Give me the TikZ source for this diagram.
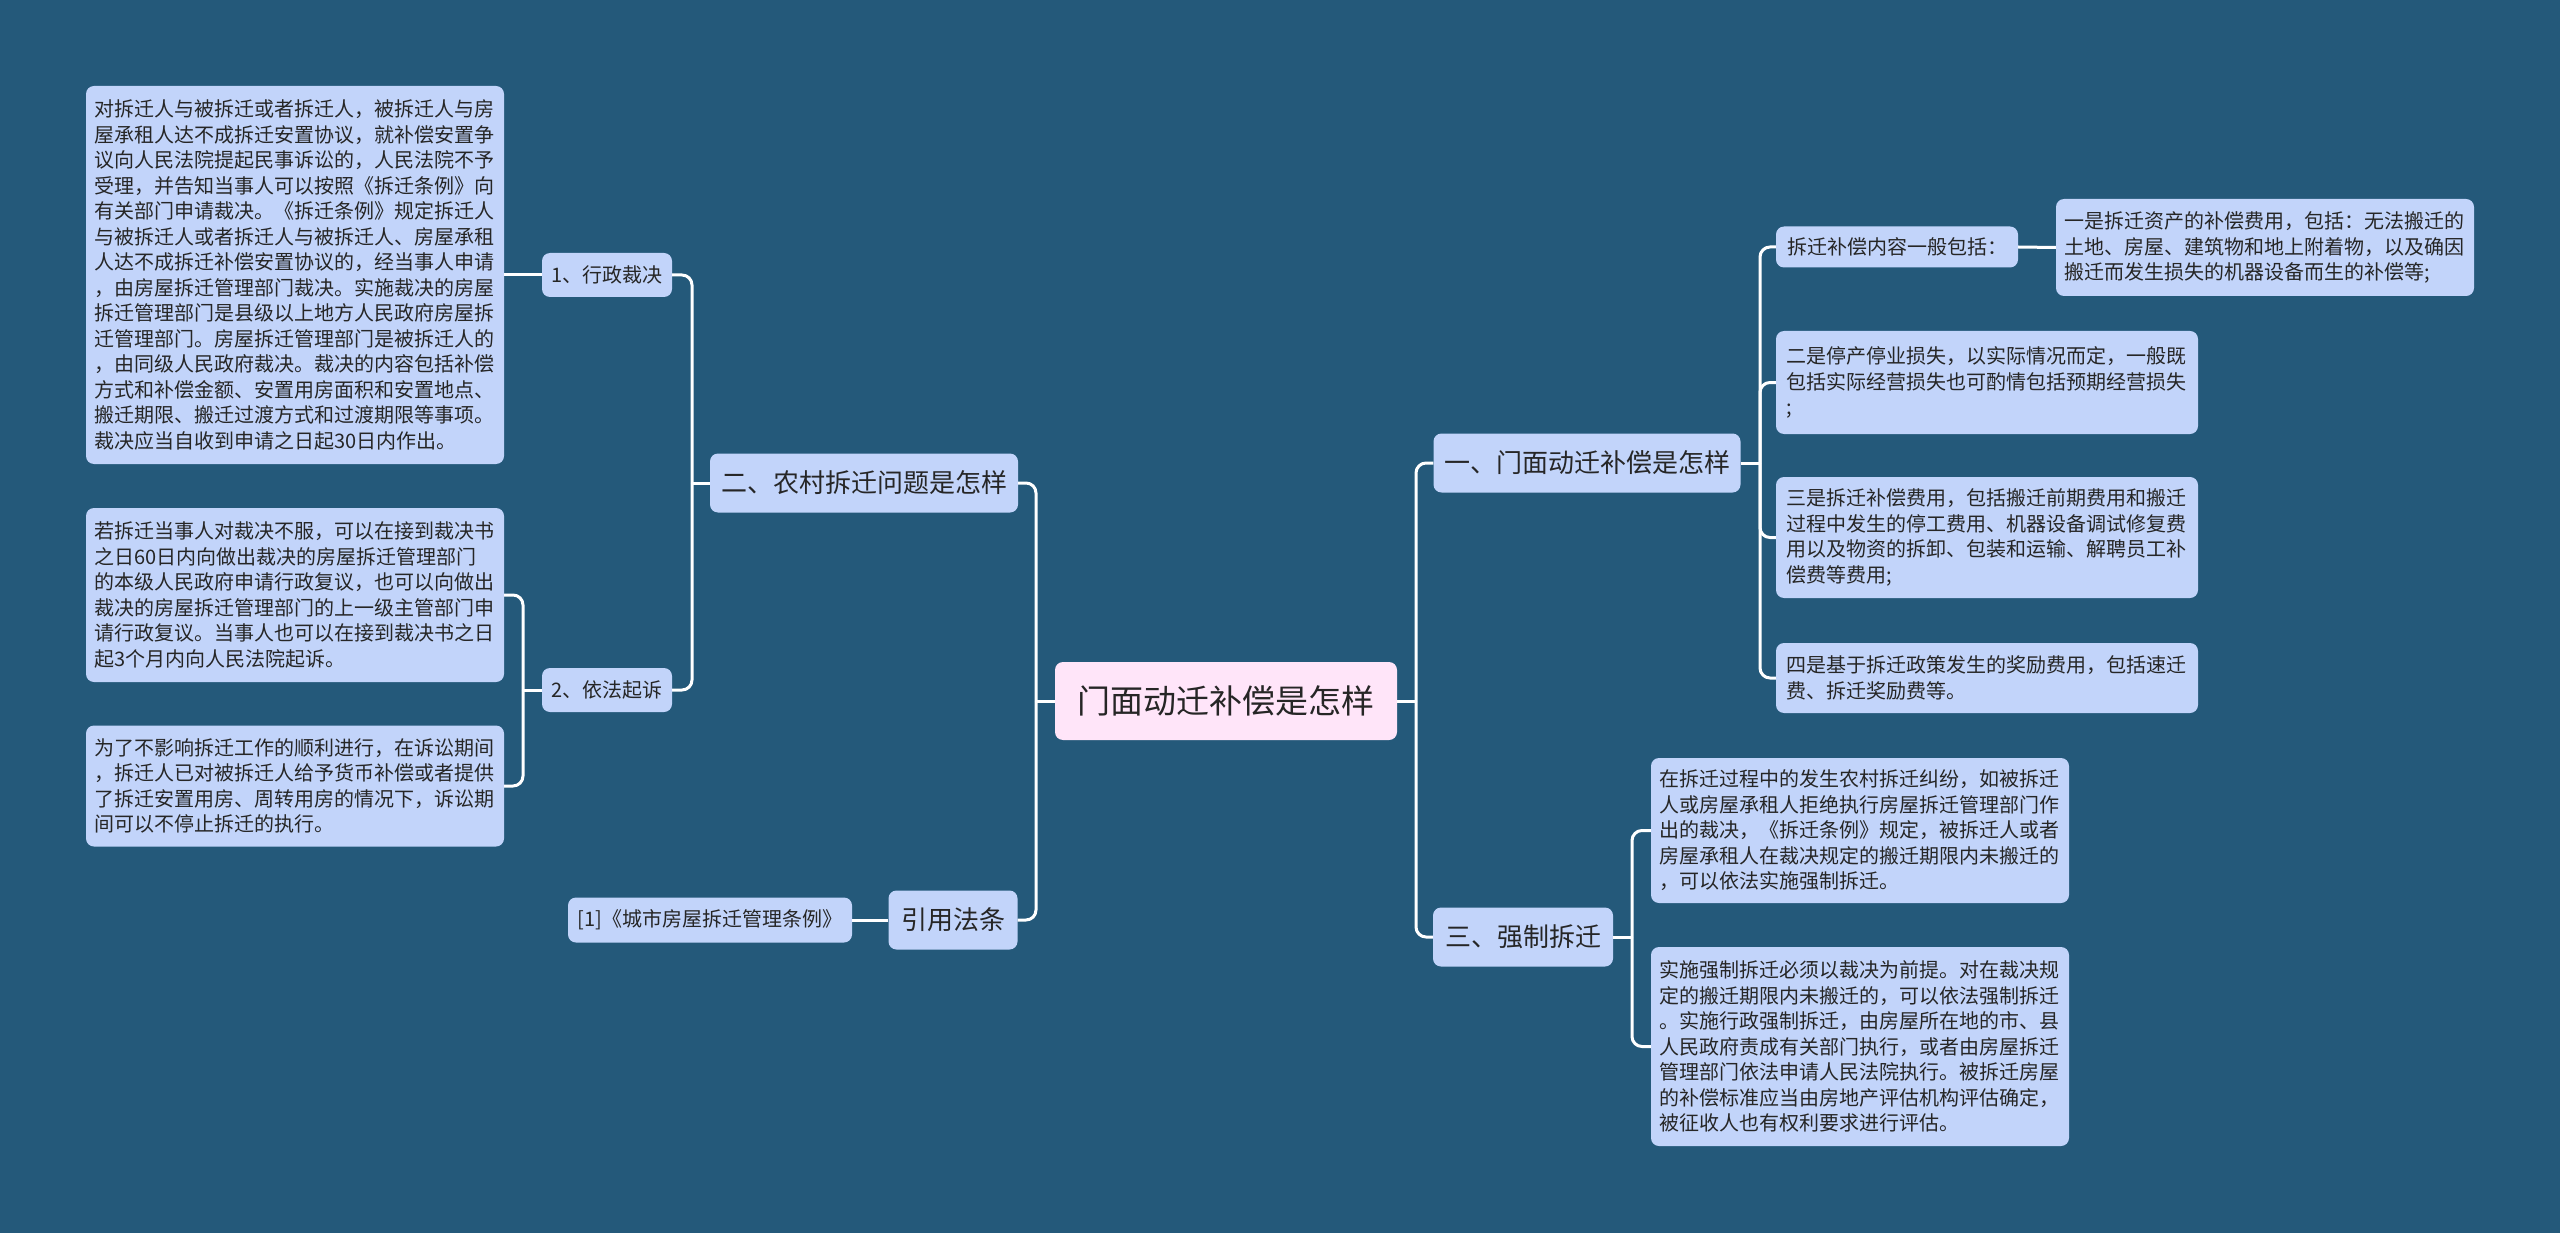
\documentclass[tikz,border=0pt]{standalone}
\usepackage{fontspec}
\setmainfont{Noto Sans CJK SC}
\definecolor{bgc}{RGB}{36,89,122}
\definecolor{boxc}{RGB}{194,212,250}
\definecolor{rootc}{RGB}{255,229,249}
\definecolor{txt}{RGB}{38,38,38}
\begin{document}
\begin{tikzpicture}[x=1pt,y=-1pt,
 base/.style={rounded corners=8pt, fill=boxc, text=txt, inner xsep=0pt, inner ysep=0pt, anchor=center},
 rootbox/.style={base, fill=rootc, font=\fontsize{33}{40}\selectfont},
 mainbox/.style={base, font=\fontsize{26}{32}\selectfont},
 subbox/.style={base, font=\fontsize{20}{25}\selectfont},
 leafbox/.style={base, font=\fontsize{20}{25.5}\selectfont, align=left, text width=402pt},
 conn/.style={draw=white, line width=3pt, rounded corners=10pt}]
\useasboundingbox (0,0) rectangle (2560,1233);
\fill[bgc] (0,0) rectangle (2560,1233);

% root
\node[rootbox, minimum width=342pt, minimum height=78pt] (root) at (1226,701) {门面动迁补偿是怎样};

% left side
\node[mainbox, minimum width=308pt, minimum height=59pt] (n2) at (864,483) {二、农村拆迁问题是怎样};
\node[mainbox, minimum width=129pt, minimum height=59pt] (cite) at (953,920) {引用法条};
\node[subbox, minimum width=130pt, minimum height=44pt] (a1) at (607,275) {1、行政裁决};
\node[subbox, minimum width=130pt, minimum height=44pt] (a2) at (607,690) {2、依法起诉};
\node[subbox, minimum width=284pt, minimum height=45pt] (c1) at (710,920) {[1]《城市房屋拆迁管理条例》};

\node[leafbox, minimum width=418pt, minimum height=378pt] (L1) at (295,275) {对拆迁人与被拆迁或者拆迁人，被拆迁人与房\\
屋承租人达不成拆迁安置协议，就补偿安置争\\
议向人民法院提起民事诉讼的，人民法院不予\\
受理，并告知当事人可以按照《拆迁条例》向\\
有关部门申请裁决。《拆迁条例》规定拆迁人\\
与被拆迁人或者拆迁人与被拆迁人、房屋承租\\
人达不成拆迁补偿安置协议的，经当事人申请\\
，由房屋拆迁管理部门裁决。实施裁决的房屋\\
拆迁管理部门是县级以上地方人民政府房屋拆\\
迁管理部门。房屋拆迁管理部门是被拆迁人的\\
，由同级人民政府裁决。裁决的内容包括补偿\\
方式和补偿金额、安置用房面积和安置地点、\\
搬迁期限、搬迁过渡方式和过渡期限等事项。\\
裁决应当自收到申请之日起30日内作出。};

\node[leafbox, minimum width=418pt, minimum height=174pt] (L2) at (295,595) {若拆迁当事人对裁决不服，可以在接到裁决书\\
之日60日内向做出裁决的房屋拆迁管理部门\\
的本级人民政府申请行政复议，也可以向做出\\
裁决的房屋拆迁管理部门的上一级主管部门申\\
请行政复议。当事人也可以在接到裁决书之日\\
起3个月内向人民法院起诉。};

\node[leafbox, minimum width=418pt, minimum height=121pt] (L3) at (295,786) {为了不影响拆迁工作的顺利进行，在诉讼期间\\
，拆迁人已对被拆迁人给予货币补偿或者提供\\
了拆迁安置用房、周转用房的情况下，诉讼期\\
间可以不停止拆迁的执行。};

% right side
\node[mainbox, minimum width=307pt, minimum height=59pt] (n1) at (1587,463) {一、门面动迁补偿是怎样};
\node[mainbox, minimum width=180pt, minimum height=59pt] (n3) at (1523,937) {三、强制拆迁};
\node[subbox, minimum width=242pt, minimum height=41pt] (b0) at (1897,247) {拆迁补偿内容一般包括：};

\node[leafbox, minimum width=418pt, minimum height=97pt] (R1) at (2265,247.5) {一是拆迁资产的补偿费用，包括：无法搬迁的\\
土地、房屋、建筑物和地上附着物，以及确因\\
搬迁而发生损失的机器设备而生的补偿等;};

\node[leafbox, minimum width=422pt, minimum height=103pt] (R2) at (1987,382.5) {二是停产停业损失，以实际情况而定，一般既\\
包括实际经营损失也可酌情包括预期经营损失\\
;};

\node[leafbox, minimum width=422pt, minimum height=121pt] (R3) at (1987,537.5) {三是拆迁补偿费用，包括搬迁前期费用和搬迁\\
过程中发生的停工费用、机器设备调试修复费\\
用以及物资的拆卸、包装和运输、解聘员工补\\
偿费等费用;};

\node[leafbox, minimum width=422pt, minimum height=70pt] (R4) at (1987,678) {四是基于拆迁政策发生的奖励费用，包括速迁\\
费、拆迁奖励费等。};

\node[leafbox, minimum width=418pt, minimum height=145pt] (S1) at (1860,830.5) {在拆迁过程中的发生农村拆迁纠纷，如被拆迁\\
人或房屋承租人拒绝执行房屋拆迁管理部门作\\
出的裁决，《拆迁条例》规定，被拆迁人或者\\
房屋承租人在裁决规定的搬迁期限内未搬迁的\\
，可以依法实施强制拆迁。};

\node[leafbox, minimum width=418pt, minimum height=199pt] (S2) at (1860,1046.5) {实施强制拆迁必须以裁决为前提。对在裁决规\\
定的搬迁期限内未搬迁的，可以依法强制拆迁\\
。实施行政强制拆迁，由房屋所在地的市、县\\
人民政府责成有关部门执行，或者由房屋拆迁\\
管理部门依法申请人民法院执行。被拆迁房屋\\
的补偿标准应当由房地产评估机构评估确定，\\
被征收人也有权利要求进行评估。};

% bus coordinates
\coordinate (bR) at (1416,701);
\coordinate (bL) at (1036,701);
\coordinate (b1) at (1760,463);
\coordinate (b3) at (1632,937);
\coordinate (bA) at (692,483);
\coordinate (bB) at (523,690);

% connectors right
\draw[conn] (root.east) -- (bR);
\draw[conn] (bR) |- (n1.west);
\draw[conn] (bR) |- (n3.west);
\draw[conn] (n1.east) -- (b1);
\draw[conn] (b1) |- (b0.west);
\draw[conn] (b1) |- (R2.west);
\draw[conn] (b1) |- (R3.west);
\draw[conn] (b1) |- (R4.west);
\draw[conn] (b0.east) -- (R1.west);
\draw[conn] (n3.east) -- (b3);
\draw[conn] (b3) |- (S1.west);
\draw[conn] (b3) |- (S2.west);

% connectors left
\draw[conn] (root.west) -- (bL);
\draw[conn] (bL) |- (n2.east);
\draw[conn] (bL) |- (cite.east);
\draw[conn] (n2.west) -- (bA);
\draw[conn] (bA) |- (a1.east);
\draw[conn] (bA) |- (a2.east);
\draw[conn] (a1.west) -- (L1.east);
\draw[conn] (a2.west) -- (bB);
\draw[conn] (bB) |- (L2.east);
\draw[conn] (bB) |- (L3.east);
\draw[conn] (cite.west) -- (c1.east);
\end{tikzpicture}
\end{document}
